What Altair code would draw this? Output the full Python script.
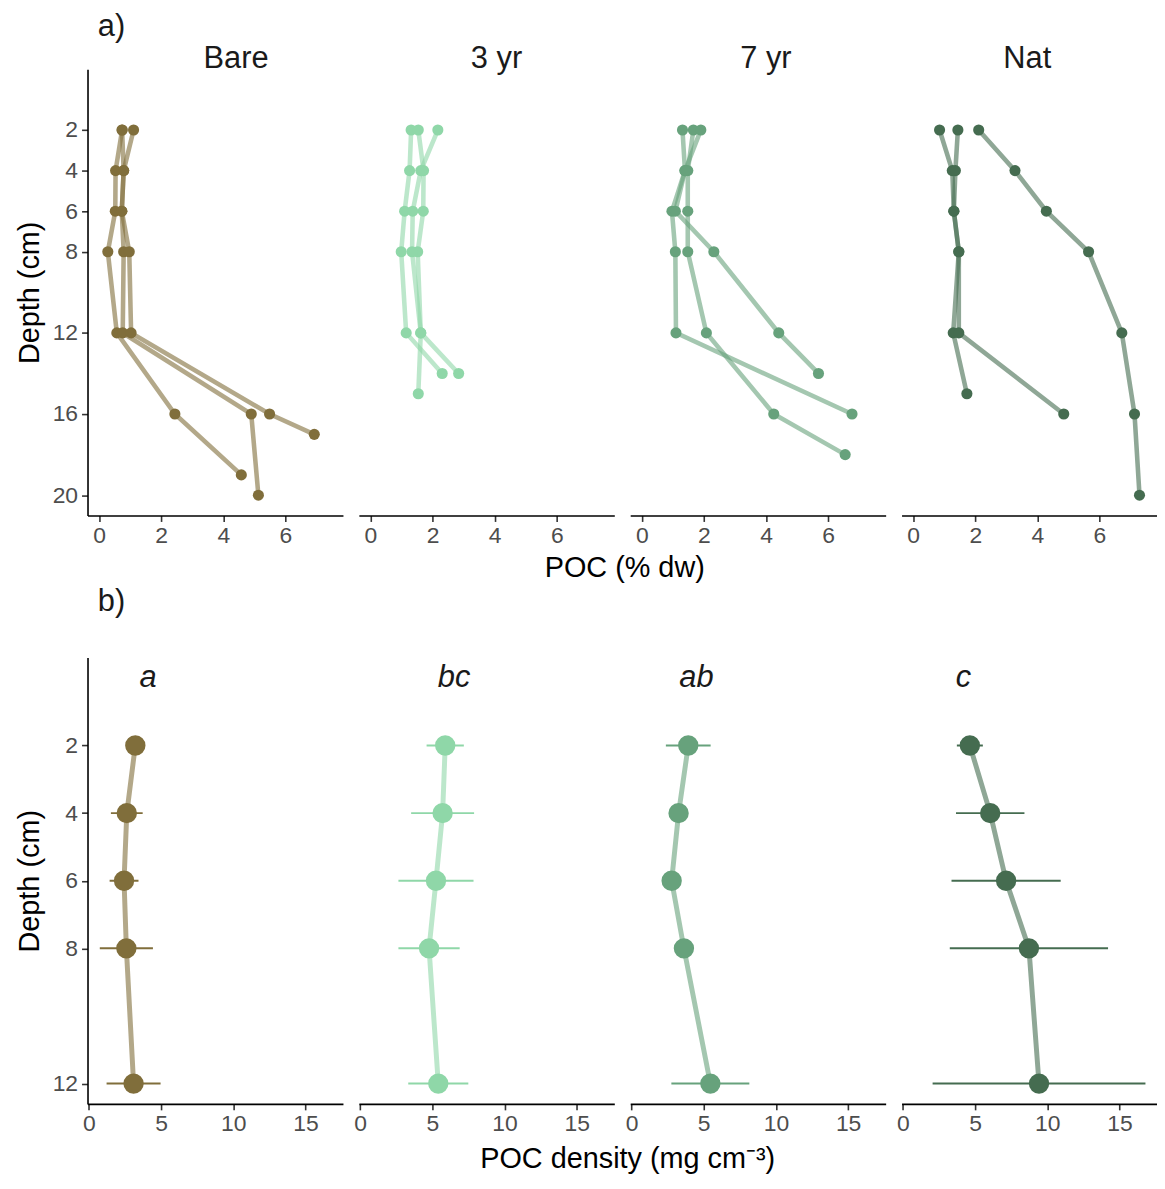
import altair as alt
import pandas as pd

FONT = "Liberation Sans"

treatments = ["Bare", "3 yr", "7 yr", "Nat"]
point_colors = ["#806e3b", "#8fd7a8", "#67a27c", "#456c50"]
strip_dx = [21, 10, 8, -2]

# ---- a) POC (% dw) per core ----
bare_depth_a = [2, 4, 6, 8, 12, 16, 19]
bare_poc_a = [0.74, 0.53, 0.52, 0.28, 0.57, 2.44, 4.58]
bare_depth_b = [2, 4, 6, 8, 12, 16, 20]
bare_poc_b = [0.74, 0.79, 0.73, 0.79, 0.76, 4.90, 5.13]
bare_depth_c = [2, 4, 6, 8, 12, 16, 17]
bare_poc_c = [1.11, 0.79, 0.73, 0.97, 1.03, 5.49, 6.93]

yr3_depth_a = [2, 4, 6, 8, 12, 14]
yr3_poc_a = [1.31, 1.26, 1.10, 0.99, 1.15, 2.31]
yr3_depth_b = [2, 4, 6, 8, 12, 15]
yr3_poc_b = [1.54, 1.71, 1.70, 1.52, 1.62, 1.54]
yr3_depth_c = [2, 4, 6, 8, 12, 14]
yr3_poc_c = [2.17, 1.62, 1.36, 1.34, 1.62, 2.84]

yr7_depth_a = [2, 4, 6, 8, 12, 16]
yr7_poc_a = [1.31, 1.39, 0.97, 1.08, 1.10, 6.77]
yr7_depth_b = [2, 4, 6, 8, 12, 16, 18]
yr7_poc_b = [1.66, 1.48, 1.48, 1.48, 2.08, 4.25, 6.55]
yr7_depth_c = [2, 4, 6, 8, 12, 14]
yr7_poc_c = [1.90, 1.39, 1.08, 2.32, 4.41, 5.69]

nat_depth_a = [2, 4, 6, 8, 12, 15]
nat_poc_a = [0.85, 1.26, 1.31, 1.47, 1.29, 1.73]
nat_depth_b = [2, 4, 6, 8, 12, 16]
nat_poc_b = [1.44, 1.36, 1.31, 1.47, 1.47, 4.85]
nat_depth_c = [2, 4, 6, 8, 12, 16, 20]
nat_poc_c = [2.11, 3.28, 4.29, 5.65, 6.72, 7.13, 7.29]

# ---- b) POC density (mg cm-3), mean and SE ----
dens_depth = [2, 4, 6, 8, 12]
bare_mean = [3.22, 2.63, 2.44, 2.60, 3.10]
bare_se = [0.5, 1.10, 1.00, 1.84, 1.87]
yr3_mean = [5.89, 5.71, 5.25, 4.77, 5.41]
yr3_se = [1.29, 2.18, 2.60, 2.12, 2.08]
yr7_mean = [3.93, 3.26, 2.78, 3.63, 5.46]
yr7_se = [1.55, 0.5, 0.4, 0.6, 2.70]
nat_mean = [4.64, 6.05, 7.15, 8.73, 9.43]
nat_se = [0.9, 2.37, 3.78, 5.48, 7.37]

letters = ["a", "bc", "ab", "c"]
letter_x = [4.1, 6.5, 4.5, 4.2]
letter_depth = [0, 0, 0, 0]

top_y_ticks = [2, 4, 6, 8, 12, 16, 20]
top_x_ticks = [0, 2, 4, 6]
bot_y_ticks = [2, 4, 6, 8, 12]
bot_x_ticks = [0, 5, 10, 15]

# ---- build tables ----
cores = {
    "Bare": [(bare_depth_a, bare_poc_a), (bare_depth_b, bare_poc_b), (bare_depth_c, bare_poc_c)],
    "3 yr": [(yr3_depth_a, yr3_poc_a), (yr3_depth_b, yr3_poc_b), (yr3_depth_c, yr3_poc_c)],
    "7 yr": [(yr7_depth_a, yr7_poc_a), (yr7_depth_b, yr7_poc_b), (yr7_depth_c, yr7_poc_c)],
    "Nat": [(nat_depth_a, nat_poc_a), (nat_depth_b, nat_poc_b), (nat_depth_c, nat_poc_c)],
}
rows = []
for t, lst in cores.items():
    for ci, (ds, ps) in enumerate(lst):
        for d, p in zip(ds, ps):
            rows.append({"treatment": t, "core": f"{t}-{ci}", "depth": d, "poc": p})
top_df = pd.DataFrame(rows)

dens = {"Bare": (bare_mean, bare_se), "3 yr": (yr3_mean, yr3_se),
        "7 yr": (yr7_mean, yr7_se), "Nat": (nat_mean, nat_se)}
brows = []
for t, (m, s) in dens.items():
    for d, mm, ss in zip(dens_depth, m, s):
        brows.append({"treatment": t, "depth": d, "mean": mm, "lo": mm - ss, "hi": mm + ss})
bot_df = pd.DataFrame(brows)
let_df = pd.DataFrame({"treatment": treatments, "letter": letters, "x": letter_x, "depth": letter_depth})

W, H = 257, 449
GAP = 16
TICK_FS = 23
TITLE_FS = 29


def x_axis(values, title, show_title, tpad, tshift):
    kw = dict(values=values, grid=False, domainColor="#000000", domainWidth=1.6,
              tickColor="#333333", tickWidth=1.6, tickSize=6, labelFontSize=TICK_FS,
              labelColor="#4d4d4d", labelFont=FONT, labelPadding=3, labelFlush=False)
    if show_title:
        kw.update(title=title, titleX=W + GAP / 2 + tshift, titleFontSize=TITLE_FS, titleFont=FONT,
                  titleFontWeight="normal", titleColor="#000000", titlePadding=tpad)
    else:
        kw.update(title="")
    return alt.Axis(**kw)


def y_axis(values):
    return alt.Axis(values=values, grid=False, domainColor="#000000", domainWidth=1.6,
                    tickColor="#333333", tickWidth=1.6, tickSize=6, labelFontSize=TICK_FS,
                    labelColor="#4d4d4d", labelFont=FONT, labelPadding=4,
                    title="Depth (cm)", titleFontSize=TITLE_FS, titleFont=FONT,
                    titleFontWeight="normal", titleColor="#000000", titlePadding=8)


def top_panel(i):
    t = treatments[i]
    c = point_colors[i]
    df = top_df[top_df.treatment == t]
    xs = alt.Scale(domain=[-0.374, 7.854], nice=False, zero=False)
    ys = alt.Scale(domain=[-1, 21], reverse=True, nice=False, zero=False)
    xa = x_axis(top_x_ticks, "POC (% dw)", i == 1, 6, 2)
    x = alt.X("poc:Q", scale=xs, axis=xa)
    if i == 0:
        y = alt.Y("depth:Q", scale=ys, axis=y_axis(top_y_ticks))
    else:
        y = alt.Y("depth:Q", scale=ys, axis=None)
    base = alt.Chart(df)
    lines = base.mark_line(color=c, opacity=0.6, strokeWidth=4.6).encode(
        x=x, y=y, detail="core:N", order="depth:Q")
    pts = base.mark_circle(color=c, opacity=1, size=125).encode(x=x, y=y)
    return alt.layer(lines, pts).properties(
        width=W, height=H,
        title=alt.TitleParams(t, fontSize=31, font=FONT, fontWeight="normal", color="#1a1a1a",
                              anchor="middle", baseline="alphabetic", offset=-30, dx=strip_dx[i]))


def bot_panel(i):
    t = treatments[i]
    c = point_colors[i]
    df = bot_df[bot_df.treatment == t]
    ldf = let_df[let_df.treatment == t]
    xs = alt.Scale(domain=[-0.09, 17.6], nice=False, zero=False)
    ys = alt.Scale(domain=[-0.6, 12.6], reverse=True, nice=False, zero=False)
    xa = x_axis(bot_x_ticks, "POC density (mg cm\u207b\u00b3)", i == 1, 9, 5)
    if i == 0:
        y = alt.Y("depth:Q", scale=ys, axis=y_axis(bot_y_ticks))
    else:
        y = alt.Y("depth:Q", scale=ys, axis=None)
    base = alt.Chart(df)
    err = base.mark_rule(color=c, strokeWidth=2).encode(
        x=alt.X("lo:Q", scale=xs, axis=xa), x2="hi:Q", y=y)
    line = base.mark_line(color=c, opacity=0.6, strokeWidth=5).encode(
        x=alt.X("mean:Q", scale=xs, axis=xa), y=y, order="depth:Q")
    pts = base.mark_circle(color=c, opacity=1, size=420).encode(
        x=alt.X("mean:Q", scale=xs, axis=xa), y=y)
    txt = alt.Chart(ldf).mark_text(fontSize=31, font=FONT, fontStyle="italic", color="#1a1a1a").encode(
        x=alt.X("x:Q", scale=xs, axis=xa), y=y, text="letter:N")
    return alt.layer(err, line, pts, txt).properties(width=W, height=H)


row_a = alt.hconcat(*[top_panel(i) for i in range(4)], spacing=GAP, bounds="flush").properties(
    title=alt.TitleParams("a)", anchor="start", fontSize=31, font=FONT, fontWeight="normal",
                          color="#1a1a1a", dx=83, offset=0))
row_b = alt.hconcat(*[bot_panel(i) for i in range(4)], spacing=GAP, bounds="flush").properties(
    title=alt.TitleParams("b)", anchor="start", fontSize=31, font=FONT, fontWeight="normal",
                          color="#1a1a1a", dx=83, offset=40))

chart = (alt.vconcat(row_a, row_b, spacing=4)
         .properties(padding={"left": 7, "top": 0, "right": 0, "bottom": 0})
         .configure(font=FONT)
         .configure_view(strokeWidth=0, stroke=None))

chart.save("out.html", embed_options={"renderer": "svg", "actions": False})
